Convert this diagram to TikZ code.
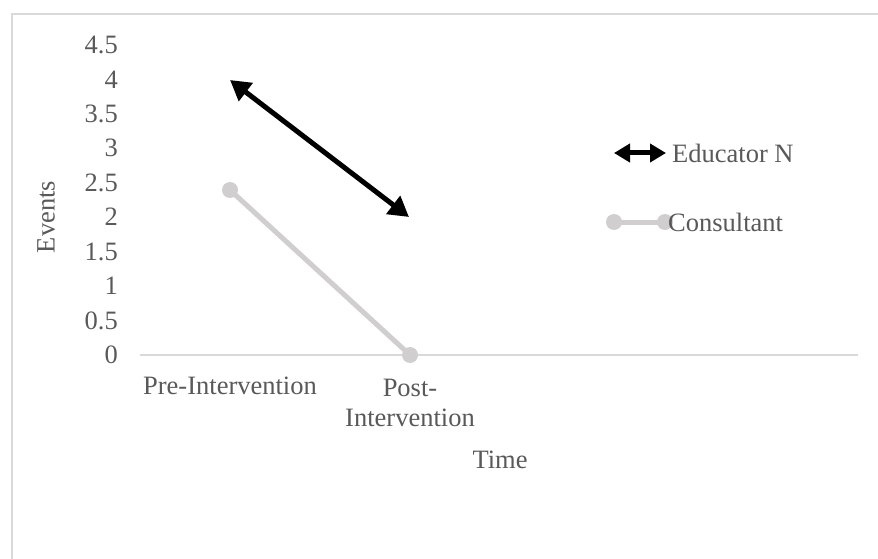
\documentclass[tikz,border=0pt]{standalone}
\usepackage{fontspec}
\setmainfont{Liberation Serif}
\usetikzlibrary{arrows.meta}
\definecolor{txt}{HTML}{595959}
\definecolor{gridc}{HTML}{D9D9D9}
\definecolor{cons}{HTML}{D0CECE}
\tikzset{
  lbl/.style={text=txt, font=\fontsize{26.5}{29}\selectfont, inner sep=0pt},
  tick/.style={lbl, anchor=east},
  consline/.style={draw=cons, line width=5pt},
  consmark/.style={circle, fill=cons, minimum size=16pt, inner sep=0pt},
  edu/.style={line width=5pt, {Triangle[length=20pt,width=22pt]}-{Triangle[length=20pt,width=22pt]}},
  edulg/.style={line width=5pt, {Triangle[length=16pt,width=18pt]}-{Triangle[length=16pt,width=18pt]}}
}
\begin{document}
\begin{tikzpicture}[x=1pt,y=-1pt]
\useasboundingbox (0,0) rectangle (878,559);
% frame (left and top edges visible)
\draw[gridc, line width=2pt] (12,559) -- (12,14.5) -- (878,14.5);
% axis
\coordinate (axl) at (140,355);
\coordinate (axr) at (858,355);
\draw[gridc, line width=2pt] (axl) -- (axr);
% tick labels
\foreach \v/\t in {0/0,0.5/0.5,1/1,1.5/1.5,2/2,2.5/2.5,3/3,3.5/3.5,4/4,4.5/4.5}{
  \node[tick] (t\v) at (118,{355-68.9*\v}) {\t};
}
% axis titles
\node[lbl, rotate=90] (ytitle) at (46,217) {Events};
\node[lbl] (xtitle) at (500,460) {Time};
\node[lbl] (cat1) at (230,386) {Pre-Intervention};
\node[lbl, align=center] (cat2) at (410,403) {Post-\\[1pt]Intervention};
% Consultant series
\node[consmark] (c1) at (230,190) {};
\node[consmark] (c2) at (410,355) {};
\draw[consline] (c1.center) -- (c2.center);
% Educator N series
\coordinate (e1) at (230,80);
\coordinate (e2) at (409,217);
\draw[edu] (e1) -- (e2);
% legend
\coordinate (le1) at (614,153);
\coordinate (le2) at (666,153);
\draw[edulg] (le1) -- (le2);
\node[lbl, anchor=west] (legedu) at (672,153) {Educator N};
\node[consmark] (lc1) at (614,222) {};
\node[consmark] (lc2) at (665,222) {};
\draw[consline] (lc1.center) -- (lc2.center);
\node[lbl, anchor=west] (legcons) at (668,222) {Consultant};
\end{tikzpicture}
\end{document}
